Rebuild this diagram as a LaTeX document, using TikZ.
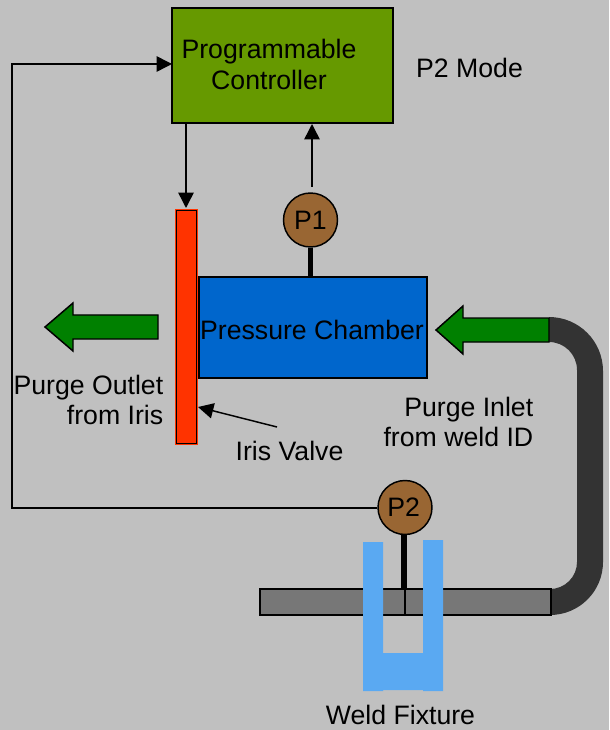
\documentclass[tikz,border=0pt]{standalone}
\usepackage{fontspec}
\setmainfont{Liberation Sans}
\definecolor{bgc}{HTML}{C0C0C0}
\definecolor{ctrl}{HTML}{669900}
\definecolor{iris}{HTML}{FF3300}
\definecolor{chamber}{HTML}{0066CC}
\definecolor{gauge}{HTML}{996633}
\definecolor{flow}{HTML}{008000}
\definecolor{pipe}{HTML}{333333}
\definecolor{bar}{HTML}{777777}
\definecolor{fixture}{HTML}{5AA9F2}
\usetikzlibrary{arrows.meta}
\tikzset{
  lbl/.style={font=\fontsize{20pt}{23pt}\selectfont,inner sep=0pt,text=black},
  boxed/.style={draw=black,line width=1.4pt,inner sep=0pt,align=center},
  gaugenode/.style={circle,draw=black,line width=1.1pt,fill=gauge,minimum size=40.5pt,inner sep=0pt,font=\fontsize{20pt}{23pt}\selectfont},
  wire/.style={draw=black,line width=1.1pt},
  arr/.style={wire,-{Triangle[length=11.5pt,width=11.5pt]}},
  stem/.style={draw=black,line width=4.4pt},
  flowarrow/.style={fill=flow,draw=black,line width=1.1pt},
}
\begin{document}
\begin{tikzpicture}[x=0.75pt,y=-0.75pt]
\path[use as bounding box,fill=bgc] (0,0) rectangle (609,730);
% purge pipe
\fill[pipe] (549,317) arc[start angle=-90,end angle=0,radius=54] -- (603,562)
  arc[start angle=0,end angle=90,radius=53] -- (550,589)
  arc[start angle=90,end angle=0,radius=27] -- (577,370)
  arc[start angle=0,end angle=-90,radius=28] -- cycle;
% weld bar
\node[boxed,fill=bar,minimum width=218pt,minimum height=19.5pt] (bar) at (405.5,602) {};
\draw[black,line width=0.9pt] (405,589) -- (405,615);
% fixture
\fill[fixture] (363,542) -- (383,542) -- (383,653) -- (423,653) -- (423,540) -- (443,540)
  -- (443,691) -- (423,691) -- (423,690) -- (383,690) -- (383,691) -- (363,691) -- cycle;
% boxes
\node[boxed,fill=ctrl,minimum width=165.5pt,minimum height=86pt] (controller) at (282.5,65.5) {};
\node[lbl,align=center] (controllertext) at (269,64.5) {Programmable\\Controller};
\node[draw=black,line width=1pt,fill=chamber,minimum width=171pt,minimum height=75.5pt,inner sep=0pt] (chamberbox) at (313,327.5) {};
\fill[black] (197,277) rectangle (200,378);
\node[lbl] (chambertext) at (312,330) {Pressure Chamber};
\node[fill=iris,minimum width=17.4pt,minimum height=177.5pt,inner sep=0pt] (valve) at (186.5,327) {};
\draw[black,line width=1.1pt] (176.5,210.5) rectangle (196.5,443.5);
\node[gaugenode] (pone) at (310.5,220) {P1};
\node[gaugenode] (ptwo) at (405,507.5) {\hspace{-2pt}P2};
% stems
\draw[stem] (pone.south) -- (pone.south |- chamberbox.north);
\draw[stem] (404,534) -- (404,589);
% flow arrows
\draw[flowarrow] (158,315) -- (73,315) -- (73,303) -- (45,327) -- (73,351) -- (73,339) -- (158,339) -- cycle;
\draw[flowarrow] (549,318) -- (463,318) -- (463,306) -- (436,330) -- (463,354) -- (463,342) -- (549,342) -- cycle;
% connectors
\coordinate (corner) at (12,508);
\coordinate (ctrlin) at (172,64);
\coordinate (valvetop) at (186,208);
\coordinate (ctrlout) at (186,123);
\coordinate (poneup) at (312,187);
\coordinate (ctrlbot) at (312,124);
\coordinate (iristail) at (277,427);
\coordinate (irishead) at (198,407);
\draw[arr] (ptwo.west |- corner) -- (corner) -- (12,64) -- (ctrlin);
\draw[arr] (ctrlout) -- (valvetop);
\draw[arr] (poneup) -- (ctrlbot);
\draw[arr] (iristail) -- (irishead);
% labels
\node[lbl] (mode) at (469.5,68) {P2 Mode};
\node[lbl,align=right,anchor=east] (outlet) at (163.5,400) {Purge Outlet\\from Iris};
\node[lbl,align=right,anchor=east] (inlet) at (533.5,422) {Purge Inlet\\from weld ID};
\node[lbl] (irislabel) at (289.5,451) {Iris Valve};
\node[lbl] (fixturelabel) at (400.5,715) {Weld Fixture};
\end{tikzpicture}
\end{document}
